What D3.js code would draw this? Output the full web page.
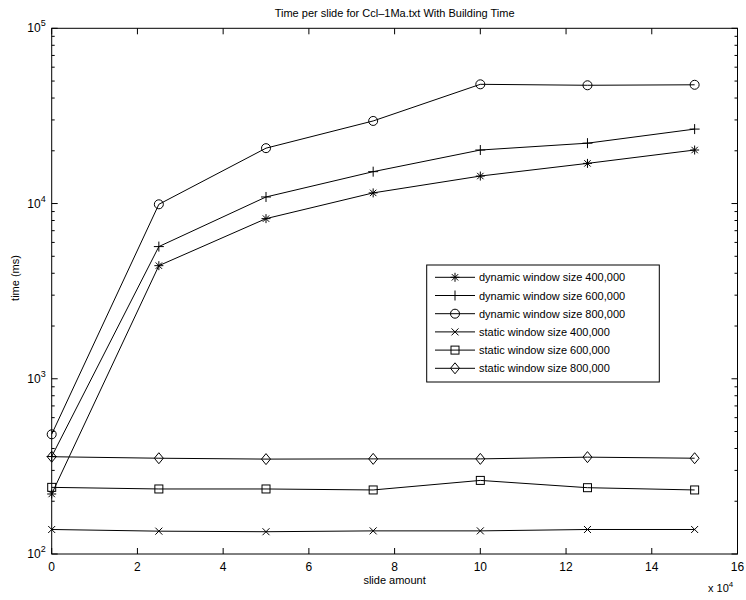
<!DOCTYPE html>
<html>
<head>
<meta charset="utf-8">
<script src="https://cdn.jsdelivr.net/npm/d3@7"></script>
<style>
body{margin:0;background:#fff;}
text{font-family:"Liberation Sans",Arial,sans-serif;fill:#000;}
</style>
</head>
<body>
<svg width="746" height="600"></svg>
<script>
var width = 746;
var height = 600;

// slide amount (x 10^4)
var slides = [0, 2.5, 5, 7.5, 10, 12.5, 15];

var dyn400 = [220, 4420, 8200, 11500, 14350, 16950, 20200];
var dyn600 = [360, 5680, 10900, 15200, 20200, 22100, 26600];
var dyn800 = [482, 9900, 20700, 29600, 47900, 47300, 47600];
var sta400 = [138, 135, 134, 135.5, 135.5, 138, 138];
var sta600 = [240, 235, 235, 232, 263, 239, 232];
var sta800 = [359, 352, 348, 349, 349, 357, 352];

var seriesNames = [
  "dynamic window size 400,000",
  "dynamic window size 600,000",
  "dynamic window size 800,000",
  "static window size 400,000",
  "static window size 600,000",
  "static window size 800,000"
];
var seriesValues = [dyn400, dyn600, dyn800, sta400, sta600, sta800];
var markers = ["star", "plus", "circle", "cross", "square", "diamond"];

var xTicks = [0, 2, 4, 6, 8, 10, 12, 14, 16];
var yTicks = [100, 1000, 10000, 100000];

// plot box edges
var pl = 51.7, pr = 737.5, pt = 28.3, pb = 554;

var svg = d3.select('svg');

var x = d3.scaleLinear().domain([0, 16]).range([pl, pr]);
var y = d3.scaleLog().domain([100, 100000]).range([pb, pt]);

// minor ticks for log axis
var minor = [];
[100, 1000, 10000].forEach(function(d){
  for (var k = 2; k < 10; k++) minor.push(d * k);
});

var g = svg.append('g');

// box
g.append('rect')
  .attr('x', pl).attr('y', pt)
  .attr('width', pr - pl).attr('height', pb - pt)
  .attr('fill', 'none').attr('stroke', '#000').attr('stroke-width', 1);

// x ticks (bottom and top, inward)
g.selectAll('.xt').data(xTicks).enter().append('path')
  .attr('d', d => 'M' + x(d) + ',' + pb + 'v-6M' + x(d) + ',' + pt + 'v6')
  .attr('stroke', '#000');

g.selectAll('.xl').data(xTicks).enter().append('text')
  .attr('x', d => x(d)).attr('y', pb + 17)
  .attr('text-anchor', 'middle').attr('font-size', 12)
  .text(d => d);

// y major ticks
g.selectAll('.yt').data(yTicks).enter().append('path')
  .attr('d', d => 'M' + pl + ',' + y(d) + 'h6M' + pr + ',' + y(d) + 'h-6')
  .attr('stroke', '#000');
// y minor ticks
g.selectAll('.ym').data(minor).enter().append('path')
  .attr('d', d => 'M' + pl + ',' + y(d) + 'h3M' + pr + ',' + y(d) + 'h-3')
  .attr('stroke', '#000');

var yl = g.selectAll('.yl').data(yTicks).enter().append('text')
  .attr('x', pl - 6).attr('y', d => y(d) + 4)
  .attr('text-anchor', 'end').attr('font-size', 12);
yl.append('tspan').text('10');
yl.append('tspan').attr('dy', -6).attr('font-size', 9).text(d => Math.round(Math.log10(d)));

// multiplier label
var mult = g.append('text').attr('x', 708).attr('y', 592).attr('font-size', 11);
mult.append('tspan').text('x 10');
mult.append('tspan').attr('dy', -5).attr('font-size', 8).text('4');

// titles
g.append('text').attr('x', (pl + pr) / 2).attr('y', 17)
  .attr('text-anchor', 'middle').attr('font-size', 11)
  .text('Time per slide for Ccl\u20131Ma.txt With Building Time');
g.append('text').attr('x', (pl + pr) / 2).attr('y', 584)
  .attr('text-anchor', 'middle').attr('font-size', 11)
  .text('slide amount');
g.append('text').attr('transform', 'translate(19,278) rotate(-90)')
  .attr('text-anchor', 'middle').attr('font-size', 11)
  .text('time (ms)');

function drawMarker(sel, type){
  sel.each(function(){
    var m = d3.select(this);
    if (type === 'circle') {
      m.append('circle').attr('r', 4.5).attr('fill', 'none').attr('stroke', '#000');
    } else if (type === 'square') {
      m.append('rect').attr('x', -4).attr('y', -4).attr('width', 8).attr('height', 8)
        .attr('fill', 'none').attr('stroke', '#000');
    } else if (type === 'diamond') {
      m.append('path').attr('d', 'M0,-5.5L4.5,0L0,5.5L-4.5,0Z')
        .attr('fill', 'none').attr('stroke', '#000');
    } else if (type === 'plus') {
      m.append('path').attr('d', 'M-5,0H5M0,-5V5').attr('stroke', '#000');
    } else if (type === 'cross') {
      m.append('path').attr('d', 'M-3.5,-3.5L3.5,3.5M-3.5,3.5L3.5,-3.5').attr('stroke', '#000');
    } else if (type === 'star') {
      m.append('path').attr('d', 'M-4.5,0H4.5M0,-4.5V4.5M-3.2,-3.2L3.2,3.2M-3.2,3.2L3.2,-3.2')
        .attr('stroke', '#000');
    }
  });
}

var line = d3.line().x(d => x(d[0])).y(d => y(d[1]));

seriesValues.forEach(function(vals, i){
  var pts = slides.map((s, j) => [s, vals[j]]);
  g.append('path').datum(pts).attr('d', line)
    .attr('fill', 'none').attr('stroke', '#000').attr('stroke-width', 1);
  var mk = g.selectAll('.m' + i).data(pts).enter().append('g')
    .attr('transform', d => 'translate(' + x(d[0]) + ',' + y(d[1]) + ')');
  drawMarker(mk, markers[i]);
});

// legend
var lg = g.append('g');
lg.append('rect').attr('x', 426.7).attr('y', 265).attr('width', 232.6).attr('height', 117)
  .attr('fill', '#fff').attr('stroke', '#000');
seriesNames.forEach(function(name, i){
  var yy = 277.3 + i * 18.2;
  lg.append('path').attr('d', 'M435,' + yy + 'H475').attr('stroke', '#000');
  var mk = lg.append('g').attr('transform', 'translate(455,' + yy + ')');
  drawMarker(mk, markers[i]);
  lg.append('text').attr('x', 479).attr('y', yy + 4).attr('font-size', 11).text(name);
});
</script>
</body>
</html>
